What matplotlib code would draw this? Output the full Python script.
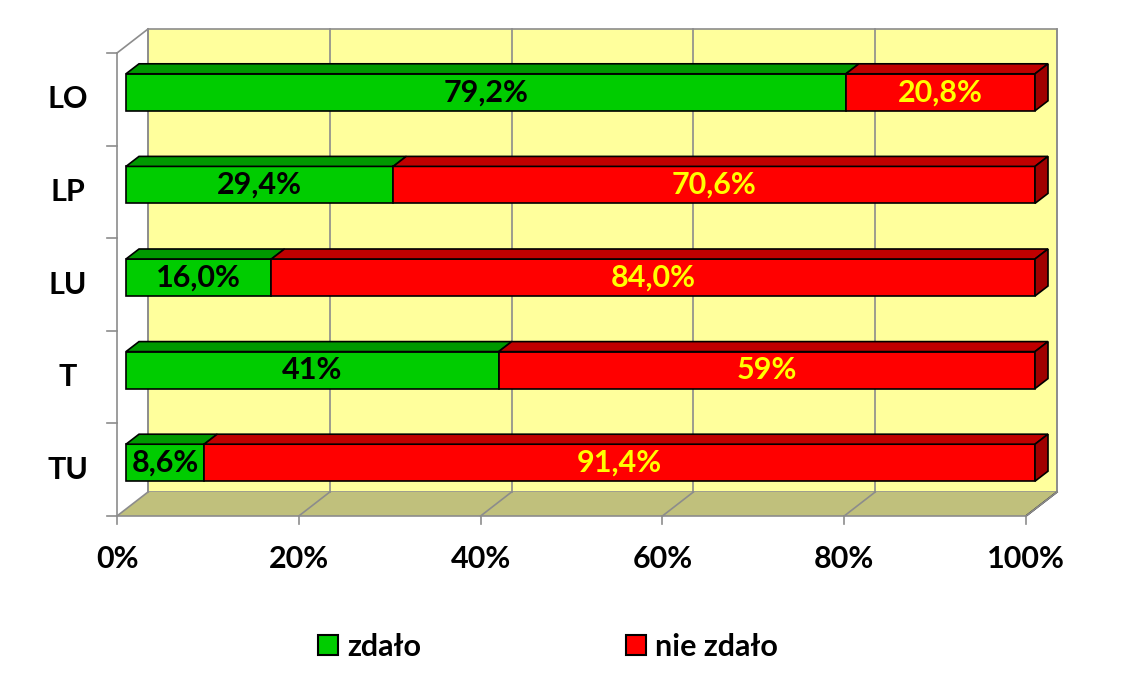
import matplotlib
matplotlib.use('Agg')
import matplotlib.pyplot as plt
from matplotlib.patches import Polygon, Patch

plt.rcParams['font.family'] = ['Lato', 'DejaVu Sans']
plt.rcParams['font.weight'] = 'bold'

categories = ['LO', 'LP', 'LU', 'T', 'TU']
passed = [79.2, 29.4, 16.0, 41, 8.6]
failed = [20.8, 70.6, 84.0, 59, 91.4]
passed_labels = ['79,2%', '29,4%', '16,0%', '41%', '8,6%']
failed_labels = ['20,8%', '70,6%', '84,0%', '59%', '91,4%']
x_ticks = [0, 20, 40, 60, 80, 100]
x_tick_labels = ['0%', '20%', '40%', '60%', '80%', '100%']
legend_labels = ['zdało', 'nie zdało']

green = ('#00CC00', '#009900', '#007700')
red = ('#FF0000', '#C00000', '#A00000')
wall_color = '#FFFF9C'
floor_color = '#C0C07C'
grid_color = '#8C8C8C'
FS = 22

# pixel scale of the chart
PX_X = 9.09     # px per 1%
PX_Y = 92.6     # px per category
wall_dx, wall_dy = 31 / PX_X, 24 / PX_Y     # back wall depth
bar_dx, bar_dy = 9 / PX_X, 7 / PX_Y         # bar front offset
depth_dx, depth_dy = 13 / PX_X, 10 / PX_Y   # bar thickness
bar_h = 37 / PX_Y

fig = plt.figure(figsize=(11.34, 6.85), dpi=100)
ax = fig.add_axes([0, 0, 1, 1])
ax.set_xlim(-117 / PX_X, (1134 - 117) / PX_X)
ax.set_ylim(-0.5 - (685 - 516) / PX_Y, -0.5 + 516 / PX_Y)
ax.axis('off')

n = len(categories)
y_lo, y_hi = -0.5, n - 0.5

# back wall and floor
ax.add_patch(Polygon([(wall_dx, y_lo + wall_dy), (100 + wall_dx, y_lo + wall_dy),
                      (100 + wall_dx, y_hi + wall_dy), (wall_dx, y_hi + wall_dy)],
                     closed=True, facecolor=wall_color, edgecolor=grid_color, lw=1.2, zorder=0))
ax.add_patch(Polygon([(0, y_lo), (100, y_lo), (100 + wall_dx, y_lo + wall_dy), (wall_dx, y_lo + wall_dy)],
                     closed=True, facecolor=floor_color, edgecolor='none', zorder=0))
ax.plot([100, 100 + wall_dx], [y_lo, y_lo + wall_dy], color='black', lw=1.2, zorder=1)
ax.plot([0, 100], [y_lo, y_lo], color=grid_color, lw=1.2, zorder=1)

for t, tl in zip(x_ticks, x_tick_labels):
    ax.plot([t + wall_dx, t + wall_dx], [y_lo + wall_dy, y_hi + wall_dy], color=grid_color, lw=1.2, zorder=1)
    ax.plot([t, t + wall_dx], [y_lo, y_lo + wall_dy], color=grid_color, lw=1.2, zorder=1)
    ax.plot([t, t], [y_lo, y_lo - 8 / PX_Y], color=grid_color, lw=1.2, zorder=1)
    ax.text(t, y_lo - 43 / PX_Y, tl, ha='center', va='center', fontsize=FS, fontweight='bold')

# left axis
ax.plot([0, 0], [y_lo, y_hi], color=grid_color, lw=1.2, zorder=1)
ax.plot([0, wall_dx], [y_hi, y_hi + wall_dy], color=grid_color, lw=1.2, zorder=1)
for k in range(n + 1):
    ax.plot([-10 / PX_X, 0], [y_lo + k, y_lo + k], color=grid_color, lw=1.2, zorder=1)

for i, cat in enumerate(categories):
    y = n - 1 - i
    ax.text(-49 / PX_X, y, cat, ha='center', va='center', fontsize=FS, fontweight='bold')

    left = 0
    segs = [(passed[i], green, passed_labels[i], 'black'),
            (failed[i], red, failed_labels[i], '#FFFF00')]
    for j, (w, col, lab, tc) in enumerate(segs):
        x0 = left + bar_dx
        yb = y + bar_dy - bar_h / 2
        yt = y + bar_dy + bar_h / 2
        ax.barh(y + bar_dy, w, left=x0, height=bar_h, color=col[0], edgecolor='black', lw=1.2, zorder=3)
        ax.add_patch(Polygon([(x0, yt), (x0 + depth_dx, yt + depth_dy),
                              (x0 + w + depth_dx, yt + depth_dy), (x0 + w, yt)],
                             closed=True, facecolor=col[1], edgecolor='black', lw=1.2, zorder=3))
        if j == len(segs) - 1:
            ax.add_patch(Polygon([(x0 + w, yb), (x0 + w + depth_dx, yb + depth_dy),
                                  (x0 + w + depth_dx, yt + depth_dy), (x0 + w, yt)],
                                 closed=True, facecolor=col[2], edgecolor='black', lw=1.2, zorder=3))
        ax.text(x0 + w / 2, y + bar_dy, lab, ha='center', va='center', color=tc,
                fontsize=FS, fontweight='bold', zorder=4)
        left += w

handles = [Patch(facecolor=green[0], edgecolor='black', lw=1.5),
           Patch(facecolor=red[0], edgecolor='black', lw=1.5)]
fig.legend(handles, legend_labels, loc='center', bbox_to_anchor=(548 / 1134, 1 - 647 / 685), ncol=2,
           frameon=False, prop={'size': FS, 'weight': 'bold'}, handlelength=0.65, handleheight=0.65,
           handletextpad=0.3, columnspacing=6.7)

fig.savefig('out.png', dpi=100)
